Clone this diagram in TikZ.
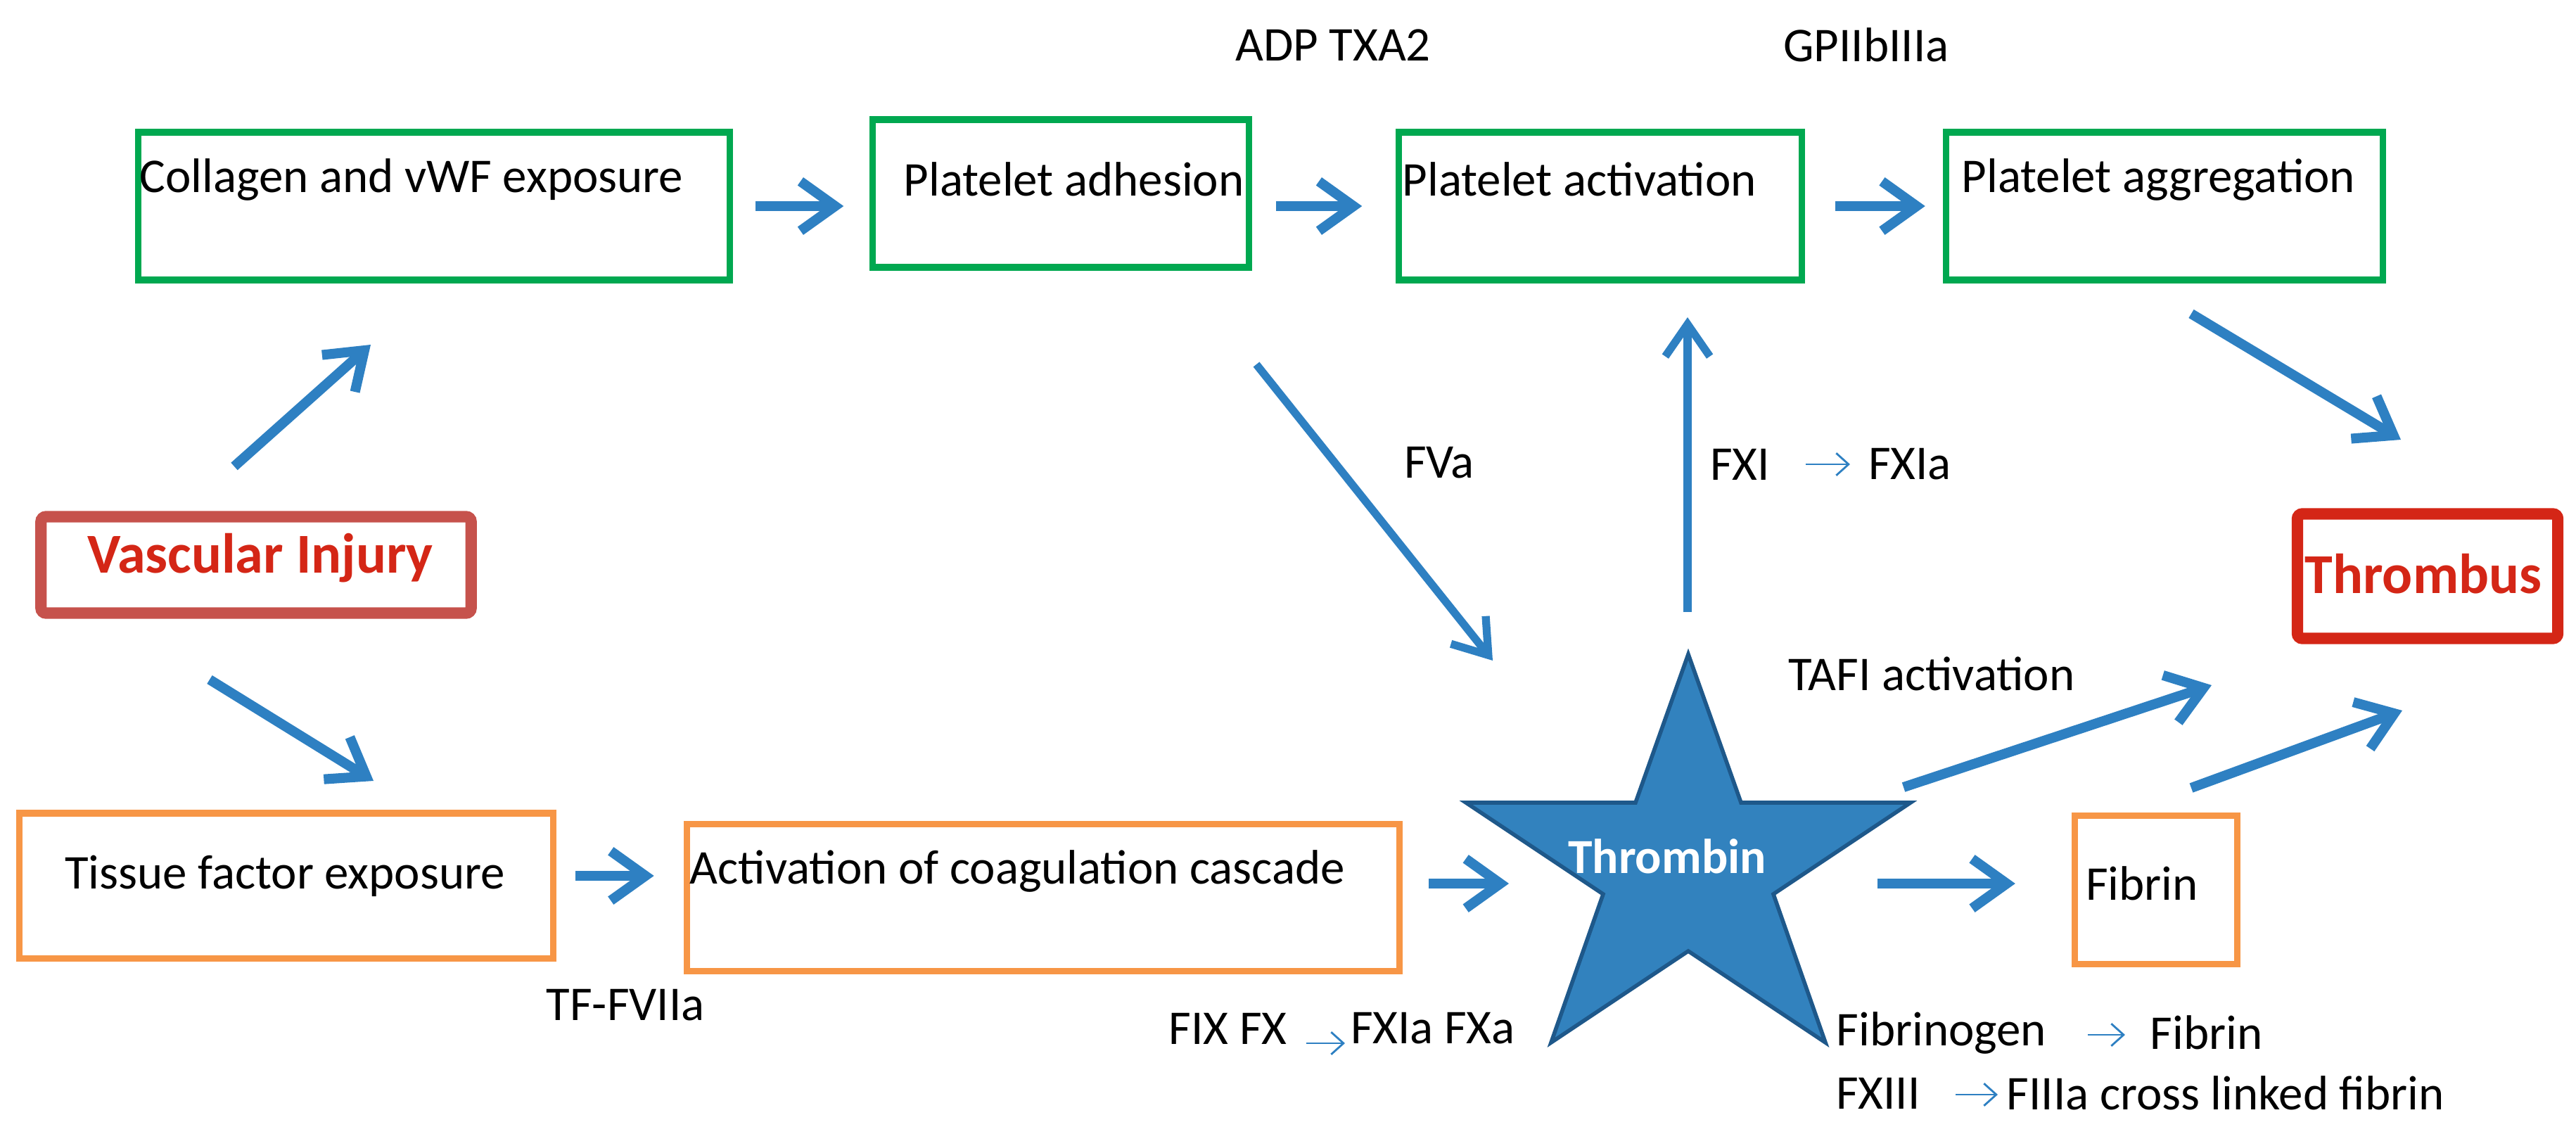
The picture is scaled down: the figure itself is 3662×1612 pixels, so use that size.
\documentclass[tikz,border=0pt]{standalone}
\usepackage{fontspec}
\setmainfont{Carlito}
\usetikzlibrary{arrows.meta}
\definecolor{boxgreen}{RGB}{0,168,80}
\definecolor{boxorange}{RGB}{247,150,70}
\definecolor{injred}{RGB}{198,82,76}
\definecolor{txtred}{RGB}{212,38,22}
\definecolor{arrowblue}{RGB}{46,128,194}
\definecolor{starblue}{RGB}{50,130,190}
\definecolor{stardark}{RGB}{30,88,138}
\tikzset{
  greenbox/.style={draw=boxgreen, line width=2.6pt, inner sep=0pt},
  orangebox/.style={draw=boxorange, line width=2.6pt, inner sep=0pt},
  redbox/.style={line width=4.6pt, inner sep=0pt, rounded corners=2pt},
  txt/.style={inner sep=0pt, font=\fontsize{19.6}{23}\selectfont},
  redtxt/.style={inner sep=0pt, text=txtred, font=\fontsize{22.8}{26}\selectfont\bfseries},
  bigarrow/.style={draw=arrowblue, line width=4pt, -{Straight Barb[length=14pt,width=20pt]}},
  midarrow/.style={draw=arrowblue, line width=3.2pt, -{Straight Barb[length=13pt,width=18pt]}},
  smallarrow/.style={draw=arrowblue, line width=0.8pt, -{Straight Barb[length=5pt,width=9pt]}}
}
\begin{document}
\begin{tikzpicture}[x=0.01cm, y=-0.01cm]
  \useasboundingbox (0,0) rectangle (3662,1612);
  % boxes
  \node[greenbox, minimum width=8.40cm, minimum height=2.10cm] (collagen) at (617,293) {};
  \node[greenbox, minimum width=5.34cm, minimum height=2.10cm] (adhesion) at (1508,275) {};
  \node[greenbox, minimum width=5.72cm, minimum height=2.10cm] (activation) at (2275,293) {};
  \node[greenbox, minimum width=6.21cm, minimum height=2.10cm] (aggregation) at (3077,293) {};
  \node[redbox, draw=injred, minimum width=6.11cm, minimum height=1.37cm] (injury) at (364,803) {};
  \node[redbox, draw=txtred, minimum width=3.70cm, minimum height=1.77cm] (thrombus) at (3451,819) {};
  \node[orangebox, minimum width=7.59cm, minimum height=2.06cm] (tissue) at (407,1259) {};
  \node[orangebox, minimum width=10.13cm, minimum height=2.09cm] (cascade) at (1483,1276) {};
  \node[orangebox, minimum width=2.31cm, minimum height=2.11cm] (fibrin) at (3065,1265) {};
  % star
  \filldraw[fill=starblue, draw=stardark, line width=1.6pt, line join=miter]
    (2400,930) -- (2475,1141) -- (2716,1141) -- (2521,1271) -- (2595,1482)
    -- (2400,1352) -- (2205,1482) -- (2279,1271) -- (2084,1141) -- (2325,1141) -- cycle;
  \node[inner sep=0pt, text=white, font=\fontsize{19.8}{23}\selectfont\bfseries] (thrombin) at (2370,1217) {Thrombin};
  % box texts
  \node[txt, anchor=west] (collagentxt) at (198,255) {Collagen and vWF exposure};
  \node[txt, anchor=west] (adhesiontxt) at (1284,255) {Platelet adhesion};
  \node[txt, anchor=west] (activationtxt) at (1993,255) {Platelet activation};
  \node[txt, anchor=west] (aggregationtxt) at (2788,255) {Platelet aggregation};
  \node[redtxt] (injurytxt) at (370,793) {Vascular Injury};
  \node[redtxt] (thrombustxt) at (3445,816) {Thrombus};
  \node[txt] (tissuetxt) at (405,1245) {Tissue factor exposure};
  \node[txt, anchor=west] (cascadetxt) at (980,1238) {Activation of coagulation cascade};
  \node[txt] (fibrintxt) at (3045,1256) {Fibrin};
  % labels
  \node[txt] (adp) at (1895,64) {ADP TXA2};
  \node[txt] (gp) at (2653,64) {GPIIbIIIa};
  \node[txt] (fva) at (2046,658) {FVa};
  \node[txt, anchor=west] (fxi) at (2431,660) {FXI};
  \node[txt, anchor=west] (fxia) at (2656,660) {FXIa};
  \node[txt, anchor=west] (tafi) at (2542,958) {TAFI activation};
  \node[txt, anchor=west] (tf) at (776,1429) {TF-FVIIa};
  \node[txt, anchor=west] (fix) at (1661,1462) {FIX FX};
  \node[txt, anchor=west] (fxa) at (1920,1462) {FXIa FXa};
  \node[txt, anchor=west] (fibrinogen) at (2610,1468) {Fibrinogen};
  \node[txt, anchor=west] (fibrin2) at (3056,1468) {Fibrin};
  \node[txt, anchor=west] (fxiii) at (2610,1554) {FXIII};
  \node[txt, anchor=west] (crosslinked) at (2852,1554) {FIIIa cross linked fibrin};
  % arrow ends
  \coordinate (inj1) at (333,663);
  \coordinate (col1) at (527,490);
  \coordinate (inj2) at (298,966);
  \coordinate (tis1) at (531,1110);
  \coordinate (agg1) at (3115,446);
  \coordinate (thr1) at (3413,625);
  \coordinate (adh1) at (1786,518);
  \coordinate (star1) at (2122,939);
  \coordinate (star2) at (2399,870);
  \coordinate (act1) at (2399,451);
  \coordinate (star3) at (2706,1119);
  \coordinate (thr2) at (3144,974);
  \coordinate (fib1) at (3115,1120);
  \coordinate (thr3) at (3415,1010);
  \coordinate (star4) at (2145,1256);
  \coordinate (star5) at (2669,1256);
  % arrows
  \begin{scope}
    \draw[bigarrow] (inj1) -- (col1);
    \draw[bigarrow] (inj2) -- (tis1);
    \draw[bigarrow, shorten <=0.32cm, shorten >=0.37cm] (collagen.east) -- (collagen.east -| adhesion.west);
    \draw[bigarrow, shorten <=0.34cm, shorten >=0.48cm] (adhesion.east |- collagen.east) -- (activation.west);
    \draw[bigarrow, shorten <=0.43cm, shorten >=0.25cm] (activation.east) -- (aggregation.west);
    \draw[bigarrow] (agg1) -- (thr1);
    \draw[bigarrow, shorten <=0.27cm, shorten >=0.42cm] (tissue.east |- tissuetxt) -- (tissuetxt -| cascade.west);
    \draw[bigarrow, shorten <=0.37cm] (cascade.east |- star4) -- (star4);
    \draw[bigarrow, shorten >=0.80cm] (star5) -- (star5 -| fibrin.west);
    \draw[bigarrow] (star3) -- (thr2);
    \draw[bigarrow] (fib1) -- (thr3);
    \draw[midarrow] (adh1) -- (star1);
    \draw[midarrow] (star2) -- (act1);
    \draw[smallarrow, shorten <=0.50cm, shorten >=0.26cm] (fxi.east) -- (fxia.west);
    \draw[smallarrow, shorten <=0.27cm, shorten >=0.08cm] (fix.east |- 0,1483) -- (fxa.west |- 0,1483);
    \draw[smallarrow, shorten <=0.58cm, shorten >=0.35cm] (fibrinogen.east |- 0,1471) -- (fibrin2.west |- 0,1471);
    \draw[smallarrow, shorten <=0.50cm, shorten >=0.12cm] (fxiii.east |- 0,1556) -- (crosslinked.west |- 0,1556);
  \end{scope}
\end{tikzpicture}
\end{document}
